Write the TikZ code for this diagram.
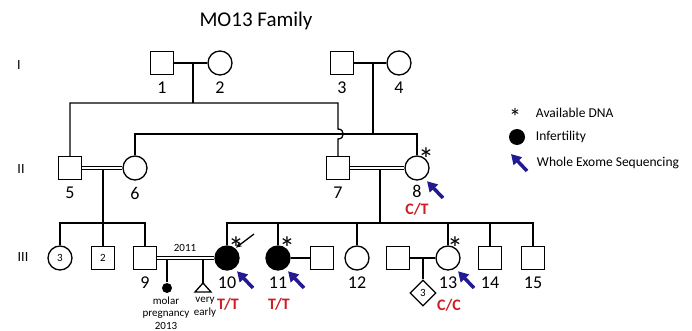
\documentclass[tikz,border=0pt]{standalone}
\usepackage{fontspec}
\setmainfont{Carlito}
\usetikzlibrary{positioning,shapes.geometric,arrows.meta}
\definecolor{wesblue}{RGB}{35,25,145}
\definecolor{genored}{RGB}{205,30,35}

\begin{document}
\begin{tikzpicture}[
    x=1pt, y=-1pt,
    line width=1.3pt,
    node distance=6pt,
    male/.style={
        rectangle,
        draw,
        minimum size=23pt,
        inner sep=0pt,
        font=\fontsize{11}{11}\selectfont
    },
    female/.style={
        circle,
        draw,
        minimum size=24pt,
        inner sep=0pt,
        font=\fontsize{11}{11}\selectfont
    },
    affected/.style={fill=black},
    num/.style={inner sep=0pt, font=\fontsize{18}{18}\selectfont},
    gen/.style={font=\fontsize{14}{14}\selectfont},
    geno/.style={anchor=base, inner sep=0pt, text=genored, font=\fontsize{16}{16}\selectfont\bfseries},
    dna/.style={anchor=base, inner sep=0pt, font=\fontsize{32}{32}\selectfont},
    wes/.style={draw=wesblue, line width=3.5pt, shorten >=4pt, -{Triangle[length=10pt,width=11pt]}},
    proband/.style={line width=1.3pt, shorten >=1pt, -{Stealth[length=6pt,width=5pt]}},
    marr/.style={double distance=2.3pt},
    small/.style={inner sep=0pt, font=\fontsize{11}{12.5}\selectfont, align=center}
]
\useasboundingbox (0,0) rectangle (692,331);

\node[font=\fontsize{21}{21}\selectfont] (title) at (256,21) {MO13 Family};

% generations
\node[gen] (genI) at (19,65) {I};
\node[gen] (genII) at (21,169) {II};
\node[gen] (genIII) at (23,257) {III};

% generation I
\node[male] (n1) at (162,63) {};
\node[female] (n2) at (220,63) {};
\node[male] (n3) at (342,63) {};
\node[female] (n4) at (399,63) {};

% generation II
\node[male] (n5) at (70,168) {};
\node[female] (n6) at (135,168) {};
\node[male] (n7) at (338,168) {};
\node[female] (n8) at (417,168) {};

% generation III
\node[female] (c3) at (60,258) {3};
\node[male] (s2) at (103,258) {2};
\node[male] (n9) at (145,258) {};
\node[female, affected] (n10) at (227,258) {};
\node[female, affected] (n11) at (278,258) {};
\node[male] (p11) at (322,258) {};
\node[female] (n12) at (357,258) {};
\node[male] (p13) at (398,258) {};
\node[female] (n13) at (448,258) {};
\node[male] (n14) at (490,258) {};
\node[male] (n15) at (533,258) {};
\node[diamond, draw, aspect=1, minimum width=26pt, minimum height=26pt, inner sep=0pt,
      font=\fontsize{11}{11}\selectfont] (d13) at (423,293) {3};
\node[circle, fill=black, minimum size=10pt, inner sep=0pt] (molar) at (167,288) {};
\coordinate (early) at (203,283);
\draw (early) -- ++(-8,9) -- ++(16,0) -- cycle;

% numbers
\node[num, below=of n1] (l1) {1};
\node[num, below=of n2] (l2) {2};
\node[num, below=of n3] (l3) {3};
\node[num, below=of n4] (l4) {4};
\node[num, below=of n5] (l5) {5};
\node[num, below=of n6] (l6) {6};
\node[num, below=of n7] (l7) {7};
\node[num, below=4pt of n8] (l8) {8};
\node[num, below=of n9] (l9) {9};
\node[num, below=of n10] (l10) {10};
\node[num, below=of n11] (l11) {11};
\node[num, below=of n12] (l12) {12};
\node[num, below=of n13] (l13) {13};
\node[num, below=of n14] (l14) {14};
\node[num, below=of n15] (l15) {15};

\node[small] (y2011) at (185,248) {2011};
\node[small] (molartxt) at (166,313) {molar\\pregnancy\\2013};
\node[small] (earlytxt) at (205,307) {very\\early};

% genotypes
\node[geno] (g8) at (417,214) {C/T};
\node[geno] (g10) at (228,309) {T/T};
\node[geno] (g11) at (279,309) {T/T};
\node[geno] (g13) at (449,310) {C/C};

% available DNA
\node[dna] (a8) at (426,170) {*};
\node[dna] (a10) at (236,259) {*};
\node[dna] (a11) at (287,259) {*};
\node[dna] (a13) at (455,259) {*};

% lines of descent
\coordinate (m12) at (193,63);
\coordinate (m34) at (373,63);
\coordinate (sib1) at (193,103);
\coordinate (sib1L) at (70,103);
\coordinate (sib1R) at (338,103);
\coordinate (hopT) at (338,129);
\coordinate (hopB) at (338,139);
\coordinate (sib2) at (373,134);
\coordinate (sib2L) at (135,134);
\coordinate (sib2R) at (417,134);
\coordinate (m56) at (103,168);
\coordinate (sib3) at (103,223);
\coordinate (m78) at (380,168);
\coordinate (sib4) at (380,223);
\coordinate (m9a) at (167,258);
\coordinate (m9b) at (203,258);
\coordinate (m13) at (423,258);

\draw (n1) -- (n2);
\draw (n3) -- (n4);
\draw (m12) -- (sib1);
\draw (n5.north) -- (sib1L) -- (sib1R) -- (hopT)
    .. controls +(7,0) and +(7,0) .. (hopB) -- (n7.north);
\draw (m34) -- (sib2);
\draw (n6.north) -- (sib2L) -- (sib2R) -- (n8.north);

\draw (m56) -- (sib3);
\draw (c3.north) |- (sib3) -| (n9.north);
\draw (sib3) -- (s2.north);
\draw (m78) -- (sib4);
\draw (n10.north) |- (sib4) -| (n15.north);
\draw (n11.north) -- (n11.north |- sib4);
\draw (n12.north) -- (n12.north |- sib4);
\draw (n13.north) -- (n13.north |- sib4);
\draw (n14.north) -- (n14.north |- sib4);

\draw (m9a) -- (molar);
\draw (m9b) -- (early);
\draw (n11) -- (p11);
\draw (p13) -- (n13);
\draw (m13) -- (d13.north);

\draw[marr] (n5) -- (n6);
\draw[marr] (n7) -- (n8);
\draw[marr] (n9) -- (n10);

% proband
\coordinate (pr10) at (254,234);
\draw[proband] (pr10) -- (n10.50);

% whole exome sequencing
\coordinate (w8) at (443,198);
\coordinate (w10) at (253,288);
\coordinate (w11) at (304,288);
\coordinate (w13) at (474,288);
\draw[wes] (w8) -- (n8.-55);
\draw[wes] (w10) -- (n10.-55);
\draw[wes] (w11) -- (n11.-55);
\draw[wes] (w13) -- (n13.-55);

% legend
\node[dna, font=\fontsize{24}{24}\selectfont] (kdna) at (515,126) {*};
\node[gen, anchor=west, font=\fontsize{13.5}{14}\selectfont] (tdna) at (532,113) {Available DNA};
\node[circle, fill=black, minimum size=16pt, inner sep=0pt] (kinf) at (517,137) {};
\node[gen, anchor=west, font=\fontsize{13.5}{14}\selectfont] (tinf) at (532,137) {Infertility};
\coordinate (kwesT) at (527,171);
\coordinate (kwesH) at (511,154);
\draw[wes, shorten >=0pt] (kwesT) -- (kwesH);
\node[gen, anchor=west, font=\fontsize{13.5}{14}\selectfont] (twes) at (533,163) {Whole Exome Sequencing};

\end{tikzpicture}
\end{document}
